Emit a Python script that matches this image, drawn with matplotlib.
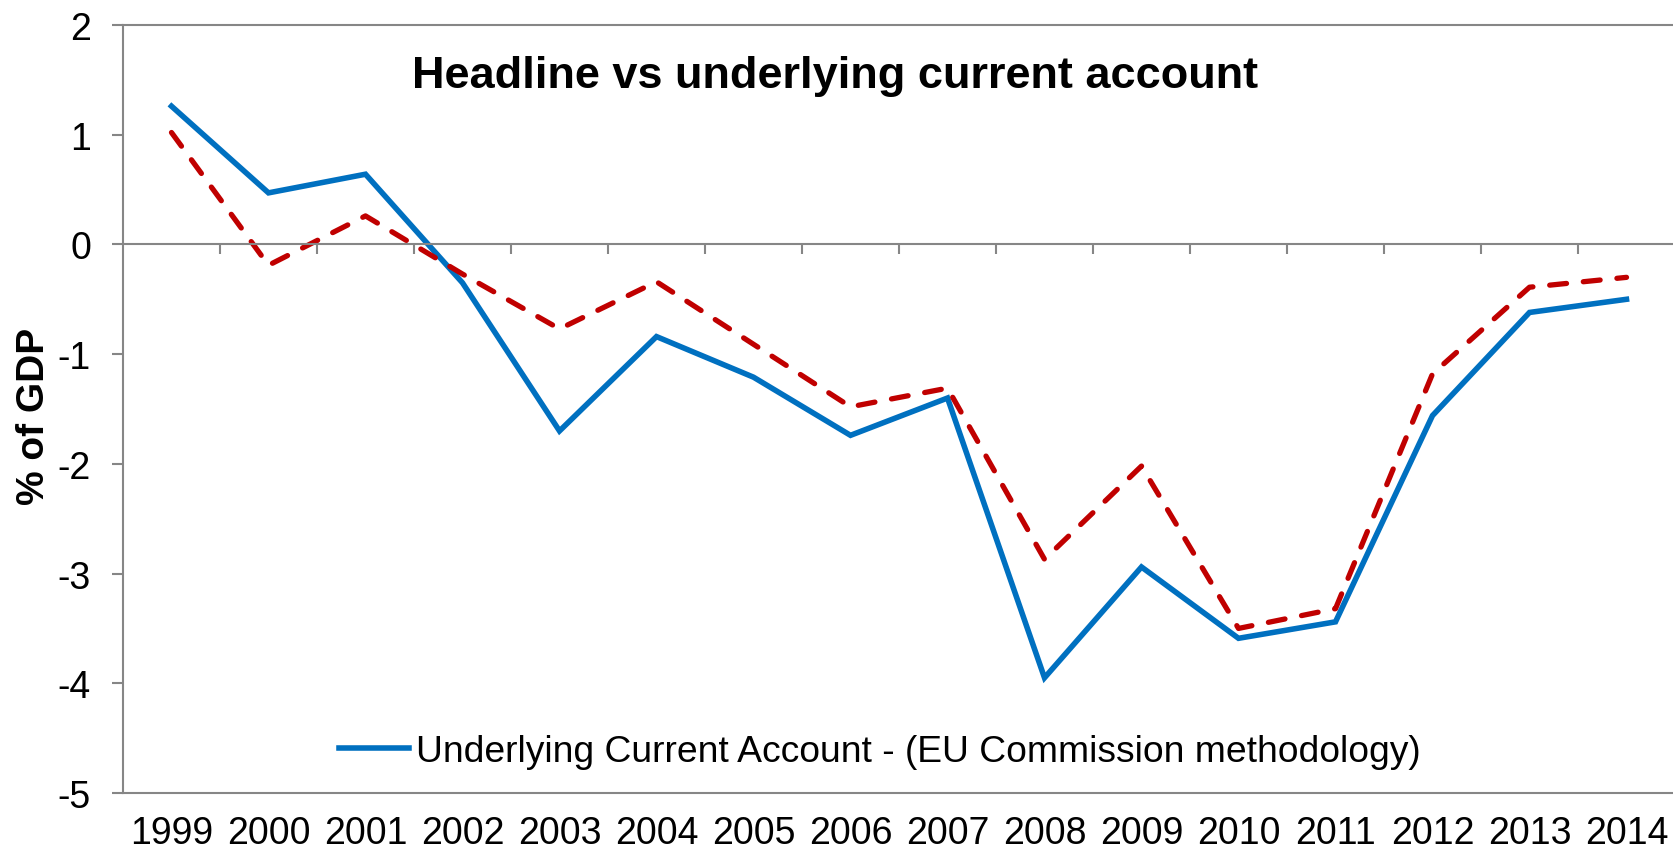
import matplotlib.pyplot as plt
plt.switch_backend('Agg')
plt.rcParams["font.family"] = ["Liberation Sans", "DejaVu Sans"]
plt.rcParams["axes.unicode_minus"] = False

years = ["1999", "2000", "2001", "2002", "2003", "2004", "2005", "2006",
         "2007", "2008", "2009", "2010", "2011", "2012", "2013", "2014"]
underlying = [1.26, 0.47, 0.64, -0.35, -1.70, -0.84, -1.21, -1.74,
              -1.40, -3.95, -2.94, -3.59, -3.44, -1.56, -0.62, -0.50]
headline = [1.02, -0.19, 0.26, -0.27, -0.77, -0.34, -0.91, -1.48,
            -1.31, -2.87, -2.02, -3.50, -3.32, -1.18, -0.39, -0.30]

grey = "#868686"
blue = "#0070C0"
red = "#C00000"

fig = plt.figure(figsize=(16.73, 8.54), dpi=100)
ax = fig.add_axes([123 / 1673, 60 / 854, 1552 / 1673, 768 / 854])

x = list(range(len(years)))
ax.plot(x, underlying, color=blue, lw=4, solid_joinstyle="miter",
        label="Underlying Current Account - (EU Commission methodology)")
ax.plot(x, headline, color=red, lw=3.8, linestyle=(0, (3.2, 3.2)),
        dash_capstyle="round")

ax.set_xlim(-0.5, len(years) - 0.5)
ax.set_ylim(-5, 2)
ax.set_yticks(range(-5, 3))

# horizontal axis crosses at zero, ticks between categories
ax.spines["bottom"].set_position(("data", 0))
ax.set_xticks([i + 0.5 for i in range(len(years))])
ax.tick_params(axis="x", direction="out", length=7, width=1.5, color=grey,
               labelbottom=False)
ax.tick_params(axis="y", direction="out", length=8, width=1.5, color=grey,
               labelsize=27, pad=15)

for side in ["left", "bottom", "top"]:
    ax.spines[side].set_color(grey)
    ax.spines[side].set_linewidth(1.5)
ax.spines["right"].set_visible(False)

# year labels along the bottom border
sec = ax.secondary_xaxis("bottom")
sec.set_xticks(x, labels=years)
sec.tick_params(length=0, labelsize=27, pad=16)
sec.spines["bottom"].set_color(grey)
sec.spines["bottom"].set_linewidth(1.5)

fig.text(835 / 1673, 1 - 88 / 854, "Headline vs underlying current account",
         fontsize=32.5, fontweight="bold", ha="center", va="baseline")
fig.text(44 / 1673, 1 - 416 / 854, "% of GDP", fontsize=28, fontweight="bold",
         rotation=90, rotation_mode="anchor", ha="center", va="baseline")

ax.legend(loc="center left", bbox_to_anchor=(339 / 1673, 1 - 753 / 854),
          bbox_transform=fig.transFigure, frameon=False, fontsize=26.8,
          borderpad=0, borderaxespad=0, handlelength=1.88, handletextpad=0.19)

fig.savefig("out.png", dpi=100)
